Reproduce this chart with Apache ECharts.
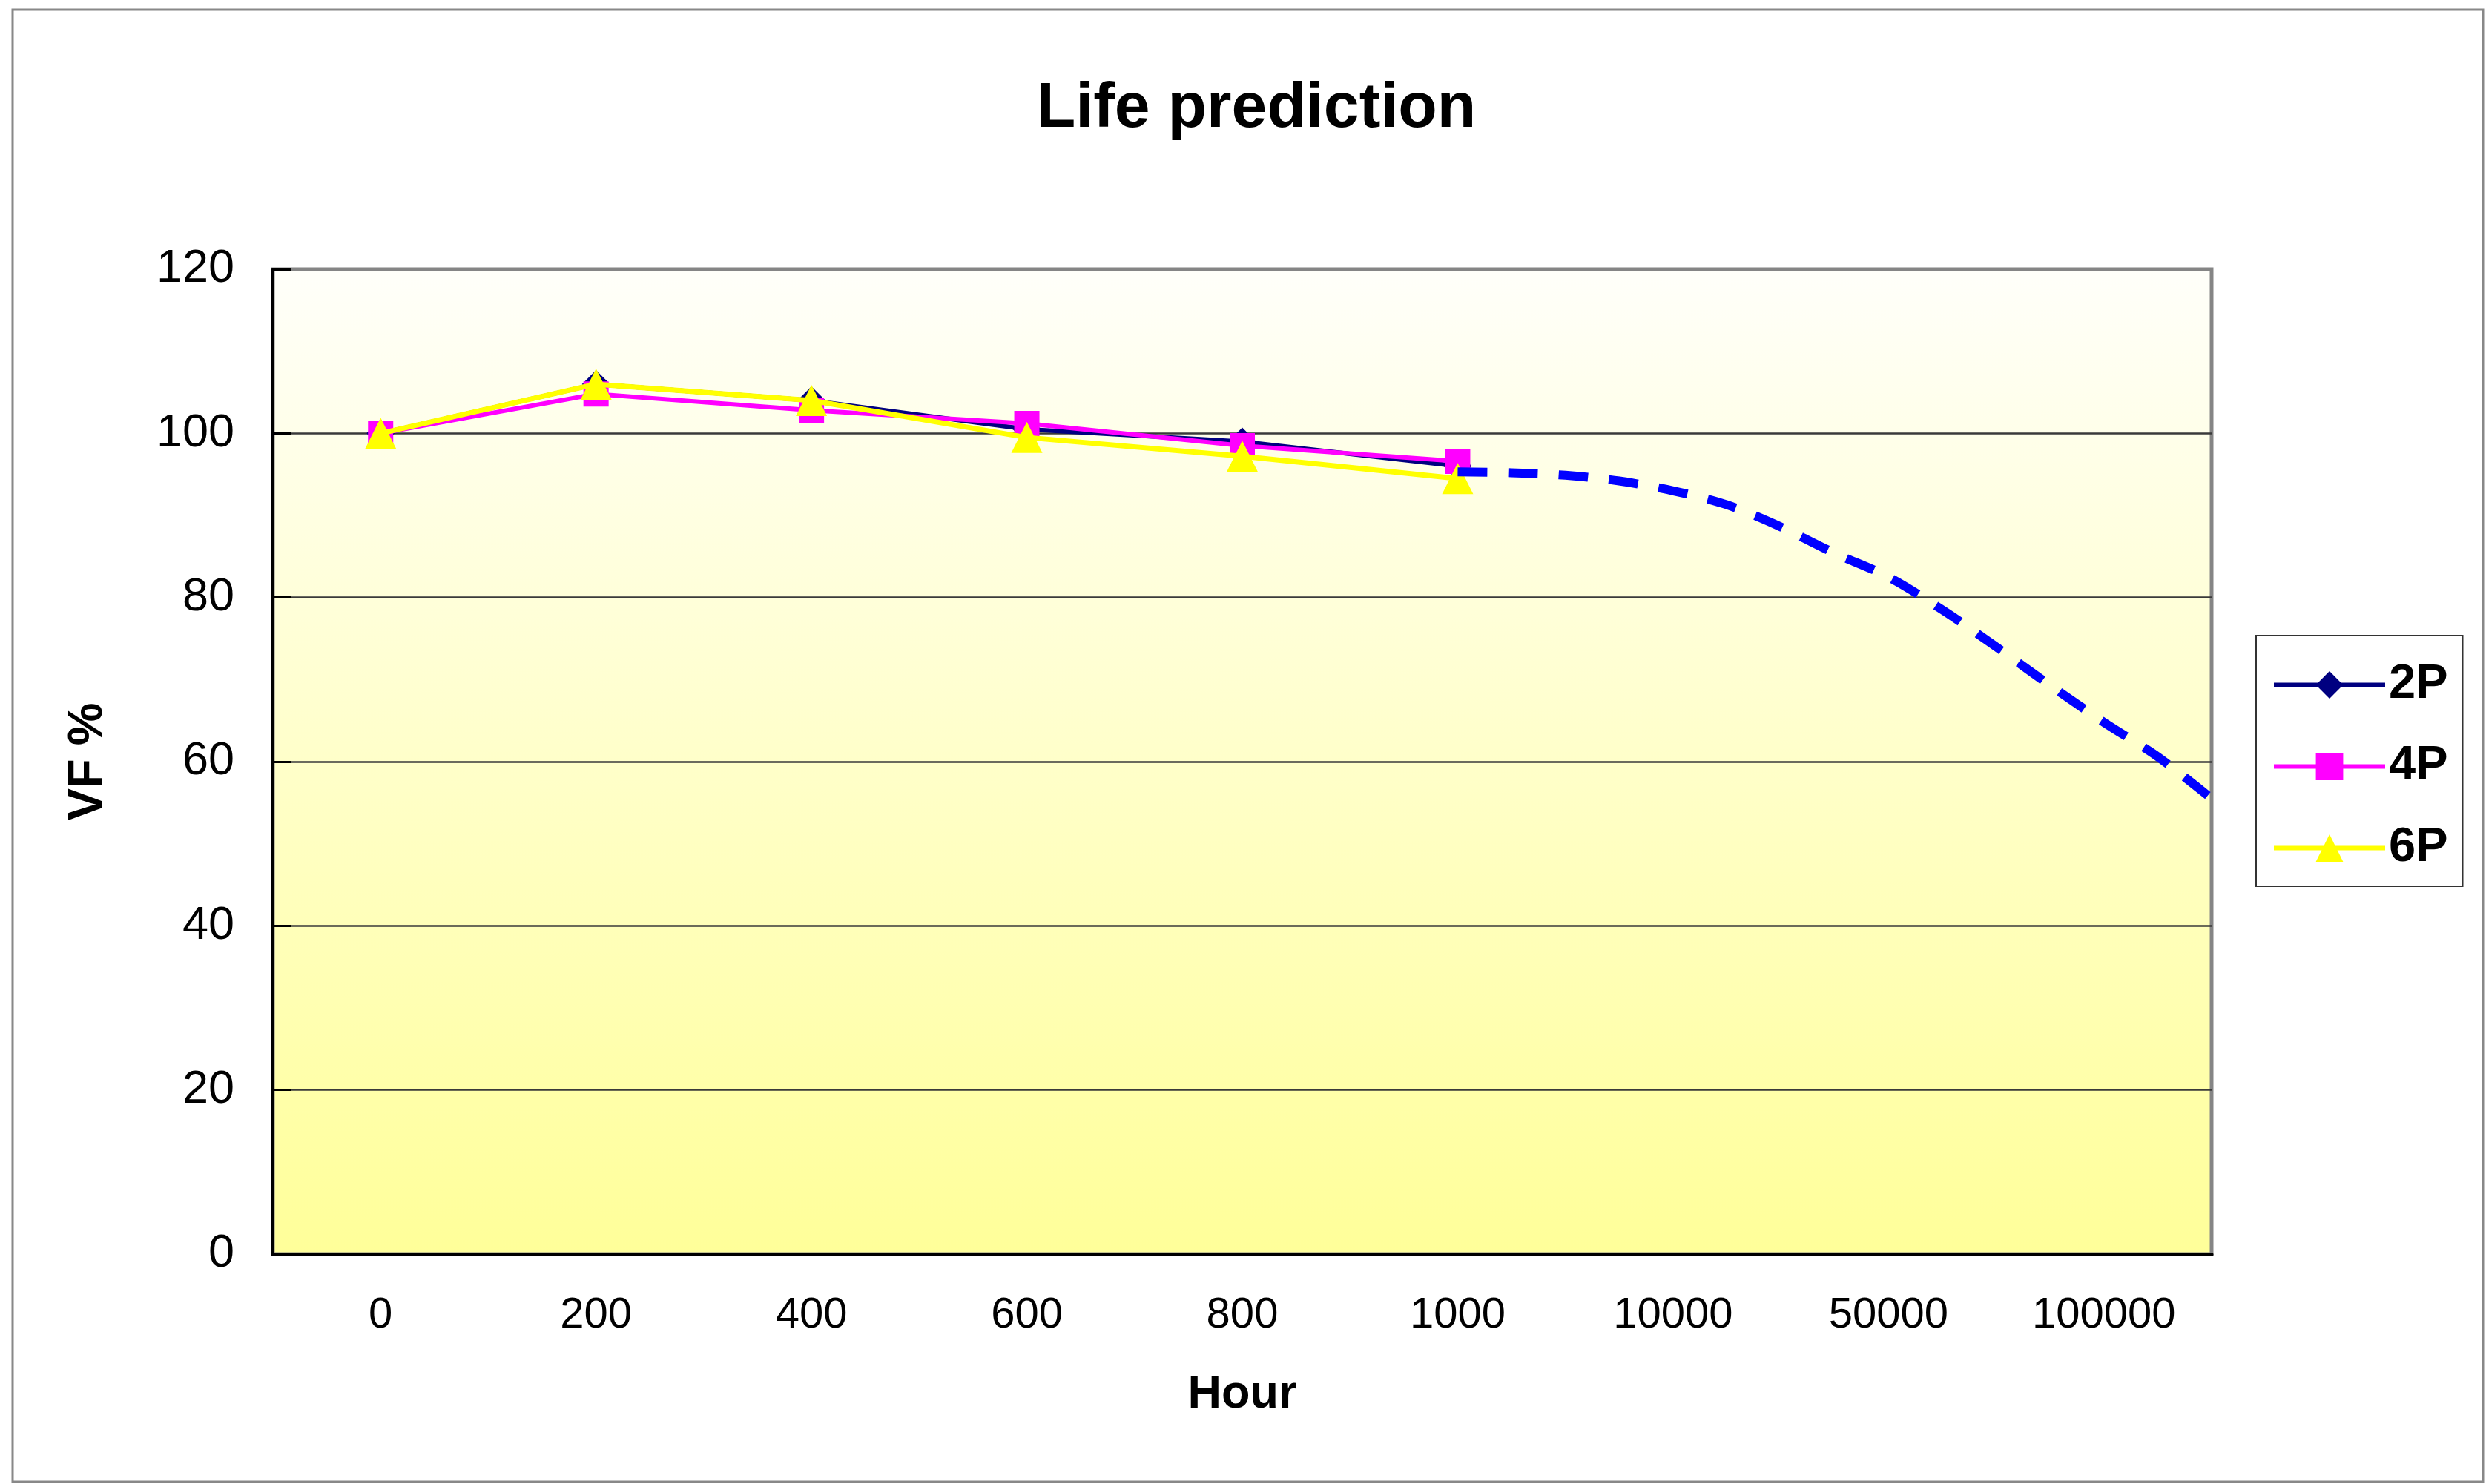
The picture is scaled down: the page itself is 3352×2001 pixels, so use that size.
<!DOCTYPE html>
<html><head><meta charset="utf-8">
<script src="https://cdn.jsdelivr.net/npm/echarts@6/dist/echarts.min.js"></script>
<style>html,body{margin:0;padding:0;background:#fff}#c{width:3352px;height:2001px}</style>
</head><body><div id="c"></div>
<script>
// ---- data ----
const hours = ['0', '200', '400', '600', '800', '1000', '10000', '50000', '100000'];
const s2P = [100, 106, 104, 100.5, 99, 96];
const s4P = [100, 104.8, 102.8, 101.2, 98.5, 96.6];
const s6P = [100, 106, 104, 99.5, 97.2, 94.5];
// prediction curve: position along the category axis (index units) and VF %
const predPos = [5, 5.25, 5.5, 5.75, 6, 6.25, 6.5, 6.75, 7, 7.25, 7.5, 7.75, 8, 8.25, 8.5];
const predVal = [95.3, 95.2, 94.9, 94.2, 93.0, 91.3, 88.6, 85.4, 82.5, 78.5, 74.0, 69.3, 64.8, 60.6, 55.5];

const FONT = 'Liberation Sans, Arial, sans-serif';
const chart = echarts.init(document.getElementById('c'), null, {renderer: 'canvas'});

chart.setOption({
  backgroundColor: '#ffffff',
  animation: false,
  title: {
    text: 'Life prediction',
    left: 1689, top: 99, textAlign: 'center',
    textStyle: {fontFamily: FONT, fontSize: 86, fontWeight: 'bold', color: '#000'}
  },
  graphic: [{
    type: 'rect', shape: {x: 17, y: 13, width: 3331, height: 1985},
    style: {fill: 'none', stroke: '#888888', lineWidth: 3}, z: 100, silent: true
  }],
  legend: {
    orient: 'vertical', left: 3042, top: 857,
    data: ['2P', '4P', '6P'],
    itemWidth: 150, itemHeight: 46, itemGap: 45,
    padding: [34, 20, 19, 21],
    borderColor: '#333', borderWidth: 2, backgroundColor: '#fff',
    lineStyle: {width: 6},
    textStyle: {fontFamily: FONT, fontSize: 65, fontWeight: 'bold', color: '#000'}
  },
  grid: {
    left: 368, right: 370, top: 363, bottom: 310,
    show: true,
    backgroundColor: {type: 'linear', x: 0, y: 0, x2: 0, y2: 1,
      colorStops: [{offset: 0, color: '#fffffa'}, {offset: 1, color: '#ffff99'}]},
    borderColor: '#858585', borderWidth: 5
  },
  xAxis: [{
    type: 'category', data: hours, boundaryGap: true,
    name: 'Hour', nameLocation: 'middle', nameGap: 158,
    nameTextStyle: {fontFamily: FONT, fontSize: 63, fontWeight: 'bold', color: '#000'},
    axisLine: {onZero: false, lineStyle: {color: '#000', width: 5}},
    axisTick: {inside: true, length: 20, lineStyle: {color: '#000', width: 2}},
    axisLabel: {fontFamily: FONT, fontSize: 58, color: '#000', margin: 54},
    splitLine: {show: false}
  }, {
    type: 'value', min: -0.5, max: 8.5, show: false
  }],
  yAxis: {
    type: 'value', min: 0, max: 120, interval: 20,
    name: 'VF %', nameLocation: 'middle', nameGap: 216,
    nameTextStyle: {fontFamily: FONT, fontSize: 65, fontWeight: 'bold', color: '#000'},
    axisLine: {show: true, onZero: false, lineStyle: {color: '#000', width: 4}},
    axisTick: {show: true, inside: true, length: 24, lineStyle: {color: '#000', width: 3}},
    axisLabel: {fontFamily: FONT, fontSize: 63, color: '#000', margin: 52},
    splitLine: {show: true, showMinLine: false, showMaxLine: false, lineStyle: {color: '#3a3a3a', width: 2.5}}
  },
  series: [
    {name: '2P', type: 'line', data: s2P, symbol: 'diamond', symbolSize: 38,
     itemStyle: {color: '#000080'}, lineStyle: {color: '#000080', width: 6}, z: 3},
    {name: '4P', type: 'line', data: s4P, symbol: 'rect', symbolSize: 34,
     itemStyle: {color: '#ff00ff'}, lineStyle: {color: '#ff00ff', width: 6}, z: 4},
    {name: '6P', type: 'line', data: s6P, symbol: 'triangle', symbolSize: 42,
     itemStyle: {color: '#ffff00'}, lineStyle: {color: '#ffff00', width: 7}, z: 5},
    {name: 'Prediction', type: 'line', xAxisIndex: 1,
     data: predPos.map((p, i) => [p, predVal[i]]),
     smooth: 0.3, symbol: 'none',
     lineStyle: {color: '#0000ff', width: 12, type: [40, 28], cap: 'butt'}, z: 6}
  ]
});
</script></body></html>
